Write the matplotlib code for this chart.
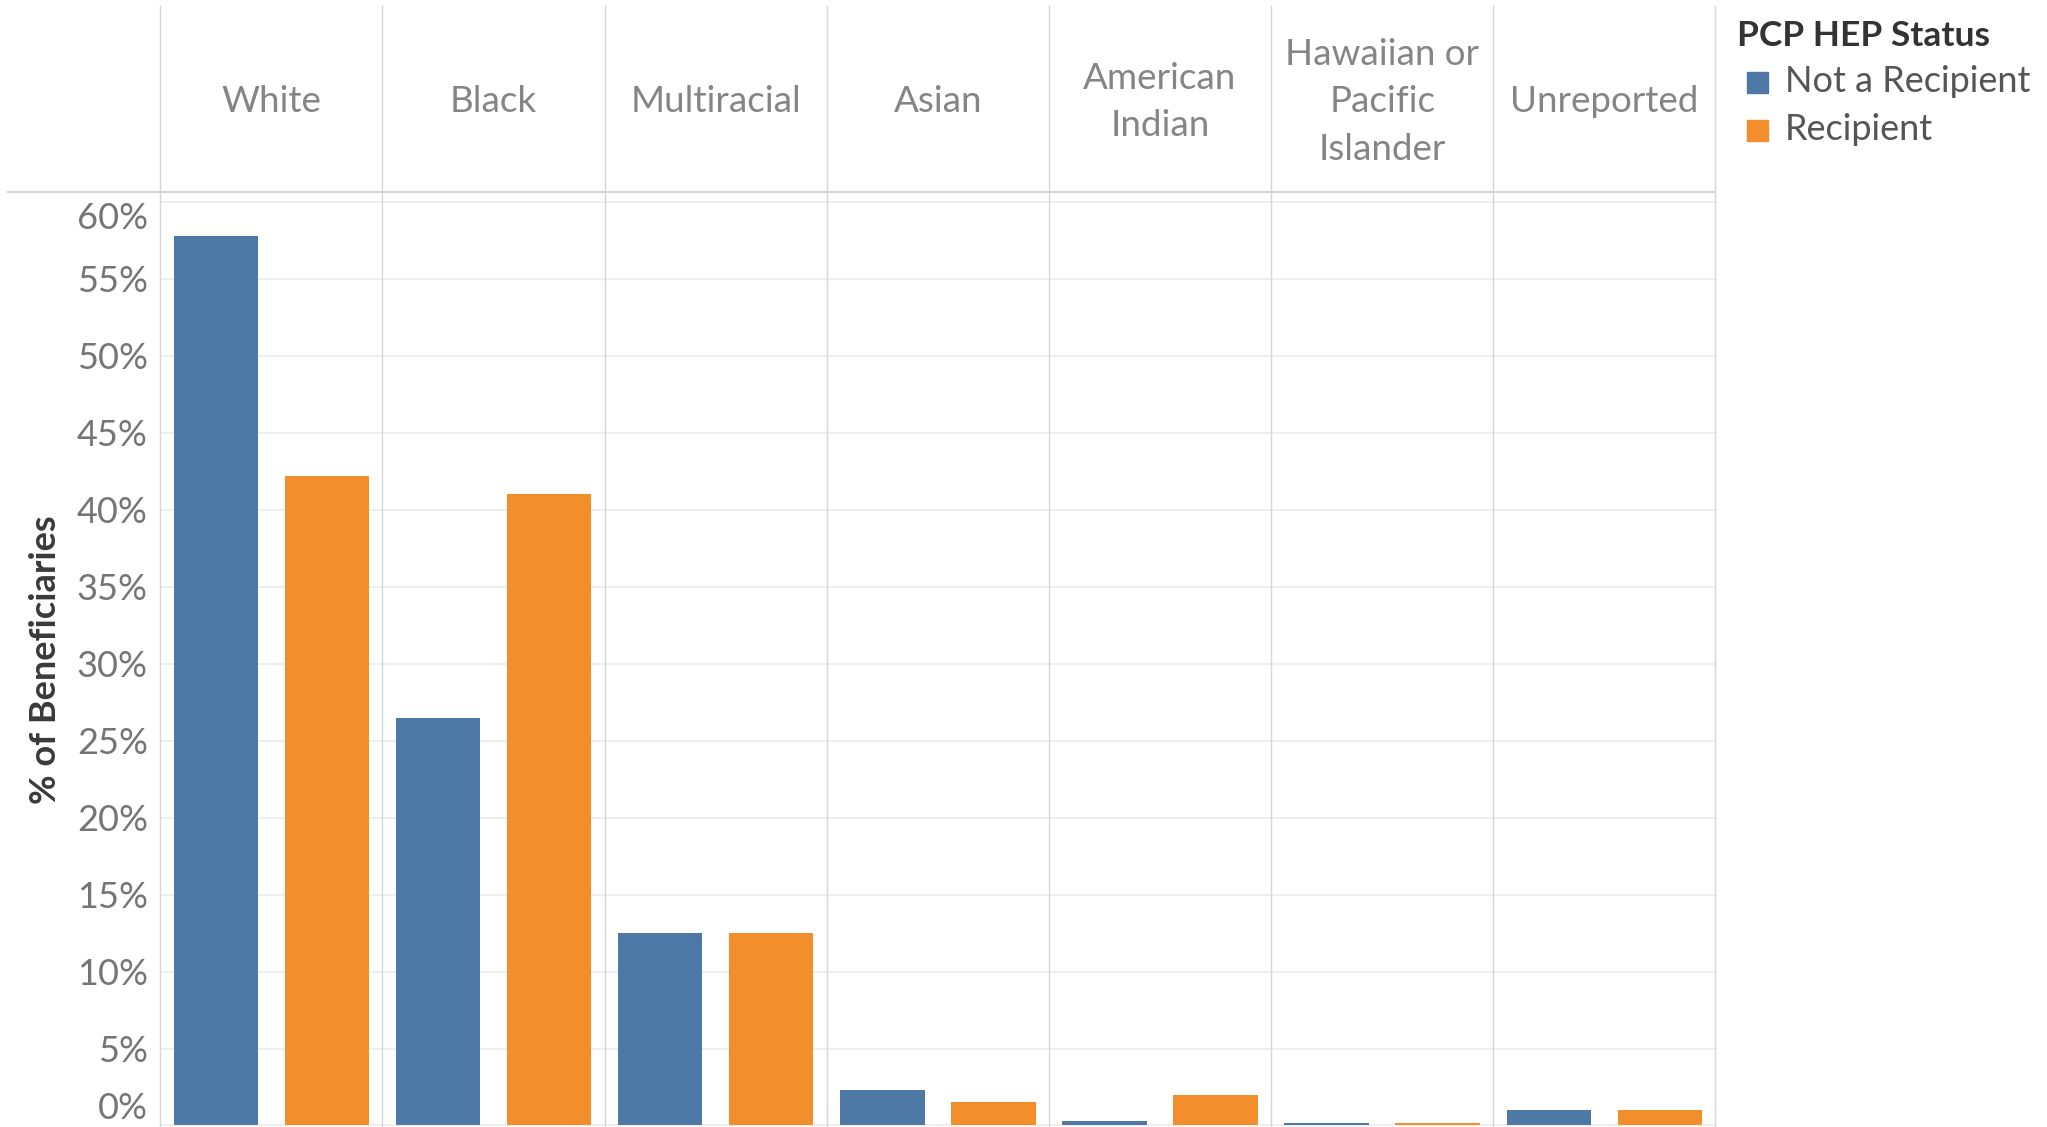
import numpy as np
import matplotlib.pyplot as plt
from matplotlib.patches import Rectangle

plt.rcParams['font.family'] = ['Lato', 'DejaVu Sans']

# data (% of beneficiaries)
categories = ["White", "Black", "Multiracial", "Asian", "American\nIndian",
              "Hawaiian or\nPacific\nIslander", "Unreported"]
not_recipient = [57.8, 26.5, 12.5, 2.3, 0.3, 0.15, 1.0]
recipient = [42.2, 41.0, 12.5, 1.5, 2.0, 0.15, 1.0]
series = ["Not a Recipient", "Recipient"]
colors = ["#4E79A7", "#F28E2B"]
y_ticks = np.arange(0, 61, 5)
y_labels = [f"{v}%" for v in y_ticks]

W, H = 2047, 1127
fig = plt.figure(figsize=(W / 100, H / 100), dpi=100)

# pixel canvas for headers, separators and legend
bg = fig.add_axes([0, 0, 1, 1])
bg.set_xlim(0, W)
bg.set_ylim(H, 0)
bg.axis('off')
bg.set_zorder(5)

left, right, top = 160.3, 1715.4, 192
pw = (right - left) / len(categories)

for i, cat in enumerate(categories):
    x0 = left + i * pw
    ax = fig.add_axes([x0 / W, 0, pw / W, (H - top) / H])
    ax.bar([0, 1], [not_recipient[i], recipient[i]], width=0.76, color=colors)
    ax.set_xlim(-0.5, 1.5)
    ax.set_ylim(-0.1, 60.65)
    ax.set_yticks(y_ticks)
    ax.grid(axis='y', color='#efefef', lw=1.5)
    ax.set_axisbelow(True)
    ax.set_xticks([])
    for s in ax.spines.values():
        s.set_visible(False)
    ax.tick_params(length=0, pad=9)
    ax.patch.set_alpha(0)
    if i == 0:
        ax.set_yticklabels(y_labels, fontsize=26, color='#757575')
        ax.get_yticklabels()[0].set_verticalalignment('bottom')
        ax.get_yticklabels()[-1].set_verticalalignment('top')
    else:
        ax.set_yticklabels([])
    bg.text(x0 + pw / 2, 102, cat, ha='center', va='center', fontsize=26.5,
            color='#858585', linespacing=1.55)

# panel separators
for i in range(len(categories) + 1):
    xb = left + i * pw
    bg.plot([xb, xb], [6, H], color='#d6d6d6', lw=1)
bg.plot([8, right], [top, top], color='#d6d6d6', lw=1.6)

# y axis title
bg.text(46, 660, "% of Beneficiaries", rotation=90, ha='center', va='center',
        fontsize=26, fontweight='bold', color='#3a3a3a')

# legend
bg.text(1737, 36, "PCP HEP Status", ha='left', va='center', fontsize=25.5,
        fontweight='bold', color='#333333')
for j, (name, c) in enumerate(zip(series, colors)):
    yc = 82 + j * 48
    bg.add_patch(Rectangle((1747, yc - 10.5), 21, 21, color=c))
    bg.text(1785, yc, name, ha='left', va='center', fontsize=26, color='#555555')

fig.savefig('out.png', dpi=100)
